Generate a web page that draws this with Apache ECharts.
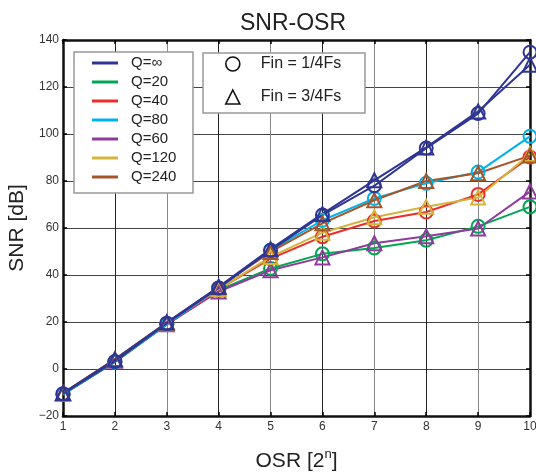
<!DOCTYPE html>
<html>
<head>
<meta charset="utf-8">
<script src="https://cdn.jsdelivr.net/npm/echarts@6/dist/echarts.min.js"></script>
<style>html,body{margin:0;padding:0;background:#fff;}#c{width:536px;height:473px;}</style>
</head>
<body>
<div id="c"></div>
<script>
var osr = [1, 2, 3, 4, 5, 6, 7, 8, 9, 10];
var qInfCircle = [-10.5, 3.2, 19.5, 34.5, 50.5, 65.5, 78, 94, 108.7, 134.8];
var qInfTriangle = [-10.2, 4, 19.8, 35, 51, 66, 80.3, 94.3, 109.6, 129.5];
var q20 = [-10.8, 3, 19, 33.5, 42.8, 49, 51.5, 54.8, 60.7, 69];
var q40 = [-10.8, 3, 19, 34, 47, 56.3, 63, 66.8, 74.3, 90.2];
var q80 = [-10.8, 3, 19, 34.5, 50.5, 63.3, 72.6, 79, 83.8, 99];
var q60 = [-10.5, 3.5, 19, 33, 42, 47.5, 53.5, 56.5, 59.8, 75.5];
var q120 = [-10.5, 4, 19.5, 34, 47.7, 58, 64.6, 69, 73, 91.5];
var q240 = [-10.3, 4.2, 19.8, 34.8, 49.8, 62, 71.8, 80, 83.3, 90.8];
var qNames = ['Q=\u221e', 'Q=20', 'Q=40', 'Q=80', 'Q=60', 'Q=120', 'Q=240'];
var finNames = ['Fin = 1/4Fs', 'Fin = 3/4Fs'];

var colors = {
  'Q=\u221e': '#2e3592', 'Q=20': '#00a651', 'Q=40': '#ee2b2b', 'Q=80': '#00b2ea',
  'Q=60': '#8f3b9e', 'Q=120': '#d4b43a', 'Q=240': '#a6552b'
};

function pairs(arr) { return osr.map(function (x, i) { return [x, arr[i]]; }); }
function mk(name, arr, sym) {
  var c = colors[name];
  return {
    type: 'line', name: name, data: pairs(arr),
    symbol: sym, symbolSize: sym === 'triangle' ? 14 : 13,
    lineStyle: { color: c, width: 2 },
    itemStyle: { color: 'rgba(0,0,0,0)', borderColor: c, borderWidth: 2 },
    emphasis: { disabled: true }, animation: false
  };
}

var FONT = 'Liberation Sans, Arial, sans-serif';
var chart = echarts.init(document.getElementById('c'));
var tickStyle = { show: true, inside: true, length: 4, lineStyle: { color: '#000', width: 1.5 } };
var spine = { show: true, onZero: false, lineStyle: { color: '#111', width: 2.5 } };

chart.setOption({
  animation: false,
  title: { text: 'SNR-OSR', left: 288, top: 7, textAlign: 'center',
    textStyle: { fontFamily: FONT, fontSize: 23, fontWeight: 'normal', color: '#222' } },
  grid: { left: 63, right: 6, top: 40, bottom: 57, outerBoundsMode: 'none', containLabel: false },
  graphic: [
    { type: 'rect', z: 3, shape: { x: 74, y: 52, width: 119, height: 141 },
      style: { fill: '#fff', stroke: '#999', lineWidth: 1.5 } },
    { type: 'rect', z: 3, shape: { x: 203, y: 53, width: 162, height: 60 },
      style: { fill: '#fff', stroke: '#999', lineWidth: 1.5 } }
  ],
  legend: [
    { orient: 'vertical', left: 92, top: 55, padding: 0, itemGap: 3,
      itemWidth: 26, itemHeight: 3, icon: 'rect', selectedMode: false,
      textStyle: { fontFamily: FONT, fontSize: 15, lineHeight: 16, color: '#222', padding: [0, 0, 0, 8] },
      data: qNames.map(function (n) { return { name: n, icon: 'rect', itemStyle: { color: colors[n], borderWidth: 0 } }; })
    },
    { orient: 'vertical', left: 225, top: 56, padding: 0, itemGap: 17,
      itemWidth: 14, itemHeight: 14, selectedMode: false,
      textStyle: { fontFamily: FONT, fontSize: 16, lineHeight: 16, color: '#222', padding: [0, 0, 0, 16] },
      data: [
        { name: finNames[0], icon: 'circle', itemStyle: { color: 'rgba(0,0,0,0)', borderColor: '#111', borderWidth: 1.6 } },
        { name: finNames[1], icon: 'triangle', itemStyle: { color: 'rgba(0,0,0,0)', borderColor: '#111', borderWidth: 1.6 } }
      ]
    }
  ],
  xAxis: [
    { type: 'value', min: 1, max: 10, interval: 1, position: 'bottom',
      name: 'OSR [2{s|n}]', nameLocation: 'middle', nameGap: 32,
      nameTextStyle: { fontFamily: FONT, fontSize: 21, color: '#222', lineHeight: 26,
        rich: { s: { fontFamily: FONT, fontSize: 13, color: '#222', verticalAlign: 'top', lineHeight: 26, padding: [0, 0, 10, 0] } } },
      axisLine: spine, axisTick: tickStyle,
      axisLabel: { fontFamily: FONT, fontSize: 12, color: '#333', margin: 5 },
      splitLine: { show: true, lineStyle: { color: ['#888', '#222'], width: 1 } } },
    { type: 'value', min: 1, max: 10, interval: 1, position: 'top',
      axisLine: spine, axisTick: tickStyle, axisLabel: { show: false }, splitLine: { show: false } }
  ],
  yAxis: [
    { type: 'value', min: -20, max: 140, interval: 20, position: 'left',
      name: 'SNR [dB]', nameLocation: 'middle', nameGap: 31,
      nameTextStyle: { fontFamily: FONT, fontSize: 21, color: '#222' },
      axisLine: spine, axisTick: tickStyle,
      axisLabel: { fontFamily: FONT, fontSize: 12, color: '#333', margin: 4,
        formatter: function (v) { return v < 0 ? '\u2212' + (-v) : String(v); } },
      splitLine: { show: true, lineStyle: { color: '#444', width: 1 } } },
    { type: 'value', min: -20, max: 140, interval: 20, position: 'right',
      axisLine: spine, axisTick: tickStyle, axisLabel: { show: false }, splitLine: { show: false } }
  ],
  series: [
    mk('Q=20', q20, 'circle'),
    mk('Q=60', q60, 'triangle'),
    mk('Q=40', q40, 'circle'),
    mk('Q=120', q120, 'triangle'),
    mk('Q=80', q80, 'circle'),
    mk('Q=240', q240, 'triangle'),
    mk('Q=\u221e', qInfCircle, 'circle'),
    mk('Q=\u221e', qInfTriangle, 'triangle'),
    { type: 'line', name: finNames[0], data: [], symbol: 'circle', itemStyle: { color: '#111' } },
    { type: 'line', name: finNames[1], data: [], symbol: 'triangle', itemStyle: { color: '#111' } }
  ]
});
</script>
</body>
</html>
